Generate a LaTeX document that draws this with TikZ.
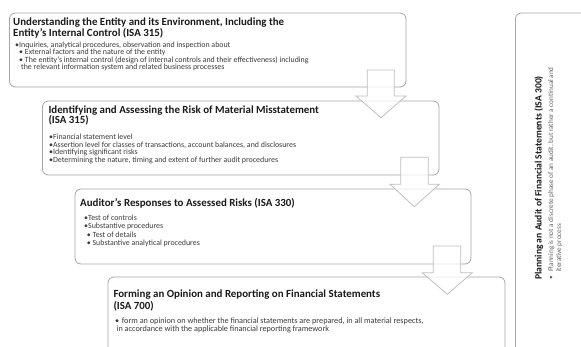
\documentclass[tikz,border=0pt]{standalone}
\usepackage{fontspec}
\setmainfont{Carlito}
\definecolor{boxgray}{HTML}{A6A6A6}
\definecolor{arrowgray}{HTML}{BFBFBF}
\definecolor{titlecol}{HTML}{1A1A1A}
\definecolor{itemcol}{HTML}{3A3A3A}
\definecolor{lightcol}{HTML}{666666}
\tikzset{
  box/.style={draw=boxgray, line width=0.8pt, rounded corners=6pt, inner sep=0pt, outer sep=0pt, anchor=north west},
  ttl/.style={anchor=base west, inner sep=0pt, font=\fontsize{10.9}{11}\selectfont\bfseries, text=titlecol},
  itm/.style={anchor=base west, inner sep=0pt, font=\fontsize{7.9}{8}\selectfont, text=itemcol},
  itmb/.style={anchor=base west, inner sep=0pt, font=\fontsize{8.2}{8.5}\selectfont, text=itemcol},
  blockarrow/.style={draw=arrowgray, line width=0.8pt, fill=white, fill opacity=0.75, line join=miter},
  vttl/.style={anchor=base west, inner sep=0pt, rotate=90, font=\fontsize{9.6}{10}\selectfont\bfseries, text=titlecol},
  vitm/.style={anchor=base west, inner sep=0pt, rotate=90, font=\fontsize{7.2}{7.5}\selectfont, text=lightcol}
}
\begin{document}
\begin{tikzpicture}[x=1pt,y=-1pt]
\useasboundingbox (0,0) rectangle (581,347);
\clip (0,0) rectangle (581,347);
\fill[white] (0,0) rectangle (581,347);
% boxes
\node[box, minimum width=396.5pt, minimum height=74pt] (b1) at (9.5,13) {};
\node[box, minimum width=396.5pt, minimum height=74pt] (b2) at (42.5,101) {};
\node[box, minimum width=396pt, minimum height=75pt] (b3) at (75,189) {};
\node[box, minimum width=397pt, minimum height=100pt] (b4) at (108,277) {};
\node[box, minimum width=100pt, minimum height=360pt] (b5) at (515.5,13) {};
% box 1 text
\node[ttl] (t1a) at (13,26) {Understanding the Entity and its Environment, Including the};
\node[ttl] (t1b) at (13,36.8) {Entity's Internal Control (ISA 315)};
\node[itm] (i1a) at (15,47.5) {•Inquiries, analytical procedures, observation and inspection about};
\node[itm] (i1b) at (19,55) {• External factors and the nature of the entity};
\node[itm] (i1c) at (19,62.5) {• The entity's internal control (design of internal controls and their effectiveness) including};
\node[itm] (i1d) at (21,69.5) {the relevant information system and related business processes};
% box 2 text
\node[ttl] (t2a) at (48.3,113.3) {Identifying and Assessing the Risk of Material Misstatement};
\node[ttl] (t2b) at (48.3,124) {(ISA 315)};
\node[itm] (i2a) at (49,139.3) {•Financial statement level};
\node[itm] (i2b) at (49,147.2) {•Assertion level for classes of transactions, account balances, and disclosures};
\node[itm] (i2c) at (49,155) {•Identifying significant risks};
\node[itm] (i2d) at (49,162.8) {•Determining the nature, timing and extent of further audit procedures};
% box 3 text
\node[ttl] (t3a) at (80,207) {Auditor's Responses to Assessed Risks (ISA 330)};
\node[itm] (i3a) at (84,220.5) {•Test of controls};
\node[itm] (i3b) at (84,228.5) {•Substantive procedures};
\node[itm] (i3c) at (86.7,237.5) {• Test of details};
\node[itm] (i3d) at (86.7,245.8) {• Substantive analytical procedures};
% box 4 text
\node[ttl] (t4a) at (113.3,298) {Forming an Opinion and Reporting on Financial Statements};
\node[ttl] (t4b) at (113.3,309) {(ISA 700)};
\node[itmb] (i4a) at (115,323.2) {•\hspace{2.6pt}form an opinion on whether the financial statements are prepared, in all material respects,};
\node[itmb] (i4b) at (116.5,331.5) {in accordance with the applicable financial reporting framework};
% right box text
\node[vttl] (t5) at (541.5,280) {Planning an Audit of Financial Statements (ISA 300)};
\node[vitm] (i5dot) at (553,280) {•};
\node[vitm] (i5a) at (553,272) {Planning is not a discrete phase of an audit, but rather a continual and};
\node[vitm] (i5b) at (561,272) {iterative process};
% block arrows
\draw[blockarrow] (367.3,70) -- (394.3,70) -- (394.3,96) -- (406,96) -- (381,117.7) -- (356,96) -- (367.3,96) -- cycle;
\draw[blockarrow] (400.7,157.3) -- (428.3,157.3) -- (428.3,184.3) -- (439.3,184.3) -- (414.3,206.7) -- (390,184.3) -- (400.7,184.3) -- cycle;
\draw[blockarrow] (433.3,246) -- (460.7,246) -- (460.7,272.7) -- (472.3,272.7) -- (447.3,294.3) -- (422.3,272.7) -- (433.3,272.7) -- cycle;
\end{tikzpicture}
\end{document}
